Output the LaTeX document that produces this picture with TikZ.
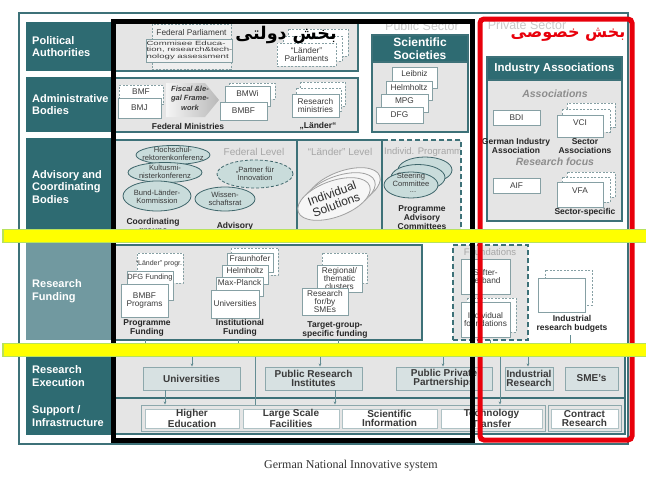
\documentclass[tikz,border=0pt]{standalone}
\usepackage{fontspec}
\usepackage{graphicx}
\setmainfont{Liberation Sans}
\newfontfamily\arabicfont[Script=Arabic]{DejaVu Sans}
\newfontfamily\capserif{Liberation Serif}
\usetikzlibrary{shapes.geometric,arrows.meta}
\TeXXeTstate=1
\definecolor{tealD}{HTML}{2E6B72}
\definecolor{tealM}{HTML}{7199A0}
\definecolor{tealL}{HTML}{3D7178}
\definecolor{panelG}{HTML}{E5E5E5}
\definecolor{boxB}{HTML}{86A0A4}
\definecolor{txtG}{HTML}{3A3A3A}
\definecolor{ellF}{HTML}{C9DCDB}
\definecolor{ellB}{HTML}{3F666B}
\definecolor{exF}{HTML}{D7E1E2}
\definecolor{exB}{HTML}{8DA8AC}
\definecolor{lvlG}{HTML}{A6A6A6}
\definecolor{ybarF}{HTML}{FFFF00}
\definecolor{ybarB}{HTML}{B8E25C}
\definecolor{redB}{HTML}{E8000B}
\definecolor{faintG}{HTML}{C9C9C9}
\newcommand\BXnode[6]{\node[#1, minimum width={(#4-#2)*1pt}, minimum height={(#5-#3)*1pt}] (#6) at ({(#2+#4)/2},{(#3+#5)/2})}
\begin{document}
\begin{tikzpicture}[x=1pt,y=-1pt,
 panel/.style={fill=panelG, draw=tealL, line width=1.4pt, inner sep=0pt, outer sep=0pt},
 dpanel/.style={panel, dash pattern=on 5pt off 3pt},
 labbox/.style={fill=tealD, inner sep=0pt, outer sep=0pt},
 labtxt/.style={text=white, font={\fontsize{11}{12.5}\selectfont\bfseries}, align=left, anchor=west, inner sep=0pt},
 sbox/.style={draw=boxB, fill=white, line width=0.7pt, inner sep=0pt, outer sep=0pt, font={\fontsize{8.3}{8.3}\selectfont}, text=txtG, align=center},
 dbox/.style={sbox, dash pattern=on 2pt off 1.5pt},
 backbox/.style={draw=boxB, fill=white, line width=0.6pt, dash pattern=on 2pt off 1.5pt},
 stxt/.style={font={\fontsize{8.3}{8.3}\selectfont}, text=txtG, align=center, inner sep=0pt},
 capt/.style={font={\fontsize{8.5}{9}\selectfont\bfseries}, text=black!85, align=center, inner sep=0pt},
 hdr/.style={fill=tealD, draw=tealL, line width=1.4pt, text=white, font={\fontsize{12}{12.5}\selectfont\bfseries}, align=center, inner sep=0pt},
 lvl/.style={text=lvlG, font={\fontsize{10}{10}\selectfont}, inner sep=0pt},
 assoc/.style={text=lvlG!85!black, font={\fontsize{10.5}{10.5}\selectfont\bfseries\itshape}, inner sep=0pt},
 ellst/.style={draw=ellB, fill=ellF, line width=0.8pt},
 indell/.style={draw=gray!75, fill=white!93!gray, line width=0.8pt},
 etxt/.style={font={\fontsize{7.6}{8}\selectfont}, text=txtG, align=center, inner sep=0pt},
 exbox/.style={draw=exB, fill=exF, line width=0.9pt, inner sep=0pt, font={\fontsize{10}{8.5}\selectfont\bfseries}, text=txtG, align=center},
 supstrip/.style={draw=exB, fill=panelG, line width=0.9pt, inner sep=0pt},
 supbox/.style={draw=exB!70, fill=white, line width=0.7pt, inner sep=0pt, font={\fontsize{10}{8.5}\selectfont\bfseries}, text=txtG, align=center},
 conn/.style={draw=tealL!80, line width=0.6pt, -{Stealth[length=3.2pt,width=2.8pt]}},
 tick/.style={draw=tealL!80, line width=0.6pt},
 ybar/.style={fill=ybarF, draw=ybarB, line width=1.6pt}]
\useasboundingbox (0,0) rectangle (646,482);
\fill[white] (0,0) rectangle (646,482);
\draw[tealL, line width=1.6pt] (19,13) rectangle (628,444);

% left column
\BXnode{labbox}{26}{22}{111}{71}{Lpol}{};
\node[labtxt] (Tpol) at (32,46.5) {Political\\Authorities};
\BXnode{labbox}{26}{77}{111}{132}{Ladm}{};
\node[labtxt] (Tadm) at (32,104.5) {Administrative\\Bodies};
\BXnode{labbox}{26}{138}{111}{236}{Ladv}{};
\node[labtxt] (Tadv) at (32,187) {Advisory and\\Coordinating\\Bodies};
\BXnode{labbox, fill=tealM}{26}{243}{111}{340}{Lfun}{};
\node[labtxt] (Tfun) at (32,291) {Research\\Funding};
\BXnode{labbox}{26}{352}{111}{435}{Lexe}{};
\node[labtxt] (Texe) at (32,376) {Research\\Execution};
\node[labtxt] (Tsup) at (32,416) {Support /\\Infrastructure};

% faint sector titles
\node[lvl, text=faintG, font={\fontsize{12.5}{12.5}\selectfont}] (PubT) at (422,26) {Public Sector};
\node[lvl, text=faintG, font={\fontsize{12.5}{12.5}\selectfont}] (PrivT) at (527,25) {Private Sector};

% political row
\BXnode{panel}{115}{21}{358}{71}{Ppol}{};
\BXnode{dbox, fill=panelG!60!white}{152}{24}{231}{69}{FedParl}{};
\node[stxt] (FedParlT) at (191.5,32.5) {Federal Parliament};
\BXnode{sbox, fill=panelG!50!white}{155}{39}{224}{62}{Comm}{\scalebox{1.6}[1]{\fontsize{6}{6.6}\selectfont\begin{tabular}{@{}l@{}}Commisee Educa-\\tion, research\&tech-\\nology assessment\end{tabular}}};
\draw[backbox] (288,29) rectangle (348,56);
\draw[backbox] (283,36) rectangle (342,61);
\BXnode{dbox}{277}{43}{336}{66}{LParl}{“Länder”\\Parliaments};
\node[inner sep=0pt, text=black, font={\arabicfont\bfseries\fontsize{17.5}{17.5}\selectfont}] (ArPub) at (286,35) {\beginR بخش دولتی\endR};

% administrative row
\BXnode{panel}{115}{78}{358}{132}{Padm}{};
\BXnode{dbox}{119}{85}{163}{104}{BMF}{};
\node[stxt] (BMFt) at (141,92) {BMF};
\BXnode{sbox}{118}{98}{161}{118}{BMJ}{BMJ};
\shade[left color=gray!8, right color=gray!55] (166,83) -- (205,83) -- (219,100) -- (205,117) -- (166,117) -- cycle;
\node[font={\fontsize{7.5}{9.5}\selectfont\bfseries\itshape}, text=txtG, align=center, inner sep=0pt] (Fiscal) at (190,98) {Fiscal \&le-\\gal Frame-\\work};
\draw[backbox] (229,83) rectangle (275,99);
\BXnode{sbox}{225}{86}{270}{106}{BMWi}{};
\node[stxt] (BMWit) at (247.5,93) {BMWi};
\BXnode{sbox}{220}{102}{267}{120}{BMBF}{BMBF};
\node[capt] (FedMin) at (188,126) {Federal Ministries};
\draw[backbox] (300,82) rectangle (345,106);
\draw[backbox] (296,88) rectangle (341,111);
\BXnode{sbox}{292}{94}{339}{117}{ResMin}{Research\\ministries};
\node[capt] (LaenderMin) at (318,126) {„Länder“};

% scientific societies
\BXnode{panel}{372}{35}{468}{132}{SciSoc}{};
\BXnode{hdr}{372}{35}{468}{62}{SciHdr}{Scientific\\Societies};
\BXnode{sbox}{392}{67}{437}{88}{Leib}{};
\node[stxt] (LeibT) at (414.5,74) {Leibniz};
\BXnode{sbox}{386}{81}{432}{100}{HGF}{};
\node[stxt] (HGFT) at (409,88) {Helmholtz};
\BXnode{sbox}{381}{94}{428}{112}{MPG}{};
\node[stxt] (MPGT) at (404.5,101) {MPG};
\BXnode{sbox}{376}{107}{423}{123}{DFG}{DFG};

% advisory row
\BXnode{panel}{115}{140}{297}{236}{PFed}{};
\BXnode{panel}{297}{140}{382}{236}{PLae}{};
\BXnode{dpanel}{382}{140}{461}{236}{PInd}{};
\draw[tealL, line width=1.4pt] (PInd.north west) -- (PInd.south west);
\node[lvl] (FedLvl) at (254,152) {Federal Level};
\node[lvl] (LaeLvl) at (340,152) {“Länder” Level};
\begin{scope}
\clip (383,141) rectangle (459,235);
\node[lvl, anchor=west, font={\fontsize{9.5}{9.5}\selectfont}] (IndLvl) at (384,152) {Individ. Programme};
\end{scope}
\draw[ellst] (173,155) ellipse [x radius=37pt, y radius=9.5pt];
\node[etxt] (HRK) at (173,154) {Hochschul-\\rektorenkonferenz};
\draw[ellst] (165,172.5) ellipse [x radius=37pt, y radius=10pt];
\node[etxt] (KMK) at (165,171.5) {Kultusmi-\\nisterkonferenz};
\draw[ellst] (157,196) ellipse [x radius=34pt, y radius=15pt];
\node[etxt] (BLK) at (157,197) {Bund-Länder-\\Kommission};
\draw[ellst, dash pattern=on 3pt off 2pt] (255,174) ellipse [x radius=38pt, y radius=14pt];
\node[etxt] (PfI) at (255,174) {„Partner für\\Innovation};
\draw[ellst] (225,199) ellipse [x radius=30pt, y radius=12pt];
\node[etxt] (WR) at (225,199) {Wissen-\\schaftsrat};
\node[capt] (CoordG) at (153,226.5) {Coordinating\\groups};
\node[capt] (AdvT) at (235,226) {Advisory};
\draw[indell, rotate around={20:(344,189)}] (344,189) ellipse [x radius=38pt, y radius=18pt];
\draw[indell, rotate around={20:(339,194)}] (339,194) ellipse [x radius=38pt, y radius=18pt];
\draw[indell, rotate around={20:(334,199)}] (334,199) ellipse [x radius=38pt, y radius=18pt];
\node[rotate=20, font={\fontsize{12}{12}\selectfont}, text=gray!35!black, align=center, inner sep=0pt] (IndSol) at (334,199) {Individual\\Solutions};
\draw[ellst] (425,170) ellipse [x radius=27pt, y radius=13pt];
\draw[ellst] (418,177.5) ellipse [x radius=27pt, y radius=13pt];
\draw[ellst] (411,185) ellipse [x radius=27pt, y radius=13pt];
\node[etxt] (Steer) at (411,180) {Steering\\Committee};
\node[etxt] (SteerD) at (413,192) {...};
\node[capt] (PAC) at (422,218) {Programme\\Advisory\\Committees};

% research funding row
\BXnode{panel}{115}{245}{422}{340}{PFun}{};
\BXnode{dbox}{137}{253}{183}{283}{LProg}{};
\node[stxt, font={\fontsize{7}{7}\selectfont}] (LProgT) at (159,264) {“Länder” progr.};
\BXnode{sbox}{127}{271}{173}{300}{DFGF}{};
\node[stxt, font={\fontsize{7.5}{7.5}\selectfont}] (DFGFT) at (150,278) {DFG Funding};
\BXnode{sbox}{121}{284}{168}{317}{BMBFP}{BMBF\\Programs};
\node[capt] (ProgF) at (147,328) {Programme\\Funding};
\draw[backbox] (231,248) rectangle (278,275);
\BXnode{sbox}{227}{253}{273}{272}{FhG}{};
\node[stxt] (FhGT) at (250,258.5) {Fraunhofer};
\BXnode{sbox}{222}{265}{268}{284}{HGFb}{};
\node[stxt] (HGFbT) at (245,271) {Helmholtz};
\BXnode{sbox}{216}{277}{263}{296}{MPGb}{};
\node[stxt] (MPGbT) at (239.5,283) {Max-Planck};
\BXnode{sbox}{211}{290}{259}{318}{Unib}{Universities};
\node[capt] (InstF) at (240,328) {Institutional\\Funding};
\draw[backbox] (322,253) rectangle (367,283);
\BXnode{sbox, font={\fontsize{8.3}{8}\selectfont}}{317}{265}{362}{292}{Reg}{Regional/\\thematic\\clusters};
\BXnode{sbox, font={\fontsize{8.3}{8}\selectfont}}{302}{288}{348}{315}{SMEs}{Research\\for/by\\SMEs};
\node[capt] (TargF) at (335,330) {Target-group-\\specific funding};

% foundations
\BXnode{dpanel}{453}{245}{528}{340}{PFound}{};
\node[lvl, font={\fontsize{9.5}{9.5}\selectfont}] (FoundT) at (490,252.5) {Foundations};
\BXnode{sbox}{461}{259}{510}{294}{Stift}{Stifter-\\verband};
\draw[backbox] (467,298) rectangle (516,332);
\BXnode{sbox}{461}{302}{510}{337}{IndFound}{Individual\\foundations};

% industrial research budgets
\draw[backbox] (545,270) rectangle (592,305);
\BXnode{sbox}{538}{278}{585}{312}{IndBud}{};
\node[capt] (IndBudT) at (572,324) {Industrial\\research budgets};

% industry associations
\BXnode{panel}{487}{57}{622}{221}{IndAss}{};
\BXnode{hdr, font={\fontsize{11.5}{12}\selectfont\bfseries}}{487}{57}{622}{80}{IndHdr}{Industry Associations};
\node[assoc] (AssT) at (555,94) {Associations};
\BXnode{sbox}{493}{110}{540}{125}{BDI}{BDI};
\draw[backbox] (567,103) rectangle (615,127);
\draw[backbox] (562,109) rectangle (610,132);
\BXnode{sbox}{557}{115}{603}{137}{VCI}{};
\node[stxt] (VCIT) at (580,123) {VCI};
\node[capt] (GIA) at (516,146) {German Industry\\Association};
\node[capt] (SecA) at (585,146) {Sector\\Associations};
\node[assoc] (ResF) at (555,162) {Research focus};
\BXnode{sbox}{493}{178}{540}{193}{AIF}{AIF};
\draw[backbox] (567,172) rectangle (615,197);
\draw[backbox] (562,177) rectangle (610,202);
\BXnode{sbox}{557}{182}{603}{207}{VFA}{};
\node[stxt] (VFAT) at (580,191) {VFA};
\node[capt] (SecS) at (585,212) {Sector-specific};
\node[inner sep=0pt, text=redB, font={\arabicfont\bfseries\fontsize{16}{16}\selectfont}] (ArPriv) at (568,35) {\beginR بخش خصوصی\endR};

% execution and support
\BXnode{panel}{115}{355}{625}{398}{PExe}{};
\BXnode{panel}{115}{398}{625}{434}{PSup}{};
\BXnode{exbox}{143}{367}{240}{390}{Uni}{Universities};
\BXnode{exbox}{265}{367}{362}{390}{PRI}{Public Research\\Institutes};
\BXnode{exbox}{396}{367}{492}{390}{PPP}{Public Private\\Partnerships};
\BXnode{exbox}{505}{367}{553}{390}{IndRes}{Industrial\\Research};
\BXnode{exbox}{565}{367}{618}{390}{SME}{SME's};
\BXnode{supstrip}{141}{405}{545}{431}{StripA}{};
\BXnode{supbox}{145}{409}{239}{428}{HE}{Higher\\Education};
\BXnode{supbox}{243}{409}{339}{428}{LSF}{Large Scale\\Facilities};
\BXnode{supbox}{342}{409}{437}{428}{SI}{Scientific\\Information};
\BXnode{supbox}{441}{409}{542}{428}{TT}{Technology\\Transfer};
\BXnode{supstrip}{548}{405}{621}{431}{StripB}{};
\BXnode{supbox}{551}{409}{618}{428}{CR}{Contract\\Research};

% connectors
\coordinate (c1) at (192,352);
\draw[conn] (c1) -- (c1 |- Uni.north);
\coordinate (c2) at (320,352);
\draw[conn] (c2) -- (c2 |- PRI.north);
\coordinate (c3) at (443,352);
\draw[conn] (c3) -- (c3 |- PPP.north);
\coordinate (c4) at (528,352);
\draw[conn] (c4) -- (c4 |- IndRes.north);
\coordinate (c5) at (165,390);
\draw[conn] (c5 |- Uni.south) -- (c5 |- StripA.north);
\coordinate (c6) at (335,390);
\draw[conn] (c6 |- PRI.south) -- (c6 |- StripA.north);
\coordinate (c7) at (500,356);
\draw[conn] (c7) -- (c7 |- StripA.north);
\coordinate (c8) at (255,356);
\draw[tick] (c8) -- (c8 |- StripA.north);
\coordinate (t1) at (145,350);
\draw[tick] (t1 |- PFun.south) -- (t1);
\coordinate (t2) at (238,350);
\draw[tick] (t2 |- PFun.south) -- (t2);
\coordinate (t3) at (338,350);
\draw[tick] (t3 |- PFun.south) -- (t3);
\coordinate (t4) at (490,350);
\draw[tick] (t4 |- PFound.south) -- (t4);
\coordinate (t5) at (570,335);
\draw[tick] (t5) -- (570,350);

% sector frames
\draw[black, line width=5pt] (113,21) rectangle (472,440);
\draw[redB, line width=5pt, rounded corners=4pt] (480,19) rectangle (632,440);

% highlight bars
\draw[ybar] (3,229.5) rectangle (650,242.5);
\draw[ybar] (3,343.5) rectangle (650,356.5);

% caption
\node[font={\capserif\fontsize{12}{12}\selectfont}, text=black!80, inner sep=0pt] (Cap) at (351,466) {German National Innovative system};
\end{tikzpicture}
\end{document}
